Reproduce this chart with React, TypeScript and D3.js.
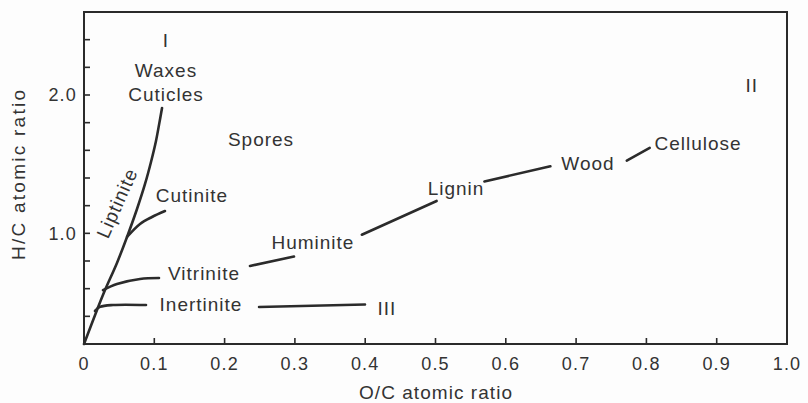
import React from "react";
import * as d3 from "d3";

// ---- data (O/C, H/C) ----
const mainLine: [number, number][] = [
  [0, 0.2], [0.0185, 0.446], [0.0299, 0.59], [0.0469, 0.786], [0.0612, 0.974],
  [0.0754, 1.176], [0.0868, 1.357], [0.0953, 1.516], [0.1024, 1.668],
  [0.1067, 1.784], [0.111, 1.906],
];
const cutiniteLine: [number, number][] = [
  [0.0612, 0.974], [0.0797, 1.068], [0.0967, 1.118], [0.1152, 1.161],
];
const vitriniteLine: [number, number][] = [
  [0.027, 0.59], [0.0469, 0.634], [0.0797, 0.67], [0.1067, 0.677],
];
const vitriniteHuminite: [number, number][] = [[0.2361, 0.764], [0.2987, 0.832]];
const inertiniteLine: [number, number][] = [
  [0.0156, 0.439], [0.0228, 0.468], [0.0413, 0.482], [0.0882, 0.482],
];
const inertiniteIII: [number, number][] = [[0.249, 0.468], [0.3997, 0.486]];
const huminiteLignin: [number, number][] = [[0.3952, 0.99], [0.5016, 1.234]];
const ligninWood: [number, number][] = [[0.5696, 1.375], [0.6634, 1.485]];
const woodCellulose: [number, number][] = [[0.7721, 1.526], [0.8047, 1.617]];

const segments = [
  mainLine, cutiniteLine, vitriniteLine, vitriniteHuminite, inertiniteLine,
  inertiniteIII, huminiteLignin, ligninWood, woodCellulose,
];

const labelTexts = ["I", "Waxes", "Cuticles", "Spores", "Cutinite", "Vitrinite", "Inertinite",
  "Huminite", "Lignin", "Wood", "Cellulose", "III", "II"];
const labelOC = [0.1166, 0.1166, 0.1166, 0.2518, 0.1536, 0.1707, 0.1664, 0.3257, 0.5292, 0.7169, 0.8734, 0.431, 0.95];
const labelHC = [2.347, 2.131, 1.957, 1.632, 1.227, 0.663, 0.439, 0.887, 1.274, 1.458, 1.603, 0.41, 2.022];

const liptinite = { text: "Liptinite", oc: 0.0469, hc: 1.22, angle: -66 };

const xTicks = [0, 0.1, 0.2, 0.3, 0.4, 0.5, 0.6, 0.7, 0.8, 0.9, 1.0];
const xTickLabels = ["0", "0.1", "0.2", "0.3", "0.4", "0.5", "0.6", "0.7", "0.8", "0.9", "1.0"];
const yTicks = [0.4, 0.6, 0.8, 1.0, 1.2, 1.4, 1.6, 1.8, 2.0, 2.2, 2.4];
const yTickLabelValues = [1.0, 2.0];
const yTickLabels = ["1.0", "2.0"];

const xTitle = "O/C atomic ratio";
const yTitle = "H/C atomic ratio";

const W = 808, H = 403;
const left = 84, right = 787, top = 12, bottom = 344;

export default function App() {
  if (typeof document !== "undefined") document.body.style.margin = "0";
  const x = d3.scaleLinear().domain([0, 1]).range([left, right]);
  const y = d3.scaleLinear().domain([0.2, 2.6]).range([bottom, top]);
  const line = d3.line<[number, number]>().x(d => x(d[0])).y(d => y(d[1])).curve(d3.curveMonotoneX);
  const straight = d3.line<[number, number]>().x(d => x(d[0])).y(d => y(d[1])).curve(d3.curveCatmullRom.alpha(0.5));
  const font = "'Liberation Sans', Arial, Helvetica, sans-serif";
  const ink = "#2b2b2b";
  const txt = "#333";

  return (
    <svg width={W} height={H} style={{ display: "block", background: "#fdfdfd" }} fontFamily={font}>
      {/* frame */}
      <rect x={left} y={top} width={right - left} height={bottom - top} fill="none" stroke={ink} strokeWidth={2} />
      {/* x ticks */}
      {xTicks.slice(1, -1).map(t => (
        <line key={"xt" + t} x1={x(t)} x2={x(t)} y1={bottom} y2={bottom - 6} stroke={ink} strokeWidth={1.6} />
      ))}
      {xTicks.map((t, i) => (
        <text key={"xl" + t} x={x(t)} y={370} textAnchor="middle" fontSize={18} letterSpacing={1.2} fill={txt}>
          {xTickLabels[i]}
        </text>
      ))}
      {/* y ticks */}
      {yTicks.map(t => (
        <line key={"yt" + t} x1={left} x2={left + 6} y1={y(t)} y2={y(t)} stroke={ink} strokeWidth={1.6} />
      ))}
      {yTickLabelValues.map((t, i) => (
        <text key={"yl" + t} x={77} y={y(t)} dy="0.36em" textAnchor="end" fontSize={18} letterSpacing={1.2} fill={txt}>
          {yTickLabels[i]}
        </text>
      ))}
      {/* axis titles */}
      <text x={435.5} y={399} textAnchor="middle" fontSize={19} textLength={153} lengthAdjust="spacing" fill={txt}>
        {xTitle}
      </text>
      <text transform={`translate(25,175) rotate(-90)`} textAnchor="middle" fontSize={19} textLength={170} lengthAdjust="spacing" fill={txt}>
        {yTitle}
      </text>
      {/* curves */}
      {segments.map((s, i) => (
        <path key={"s" + i} d={(s.length > 2 ? straight(s) : line(s)) || ""} fill="none" stroke={ink} strokeWidth={2.6} strokeLinecap="round" />
      ))}
      {/* labels */}
      {labelTexts.map((t, i) => (
        <text key={"lb" + i} x={x(labelOC[i])} y={y(labelHC[i])} textAnchor="middle" fontSize={19} letterSpacing={1} fill={txt}>
          {t}
        </text>
      ))}
      <text transform={`translate(${x(liptinite.oc)},${y(liptinite.hc)}) rotate(${liptinite.angle})`}
        textAnchor="middle" dy="0.35em" fontSize={19} letterSpacing={1} fill={txt}>
        {liptinite.text}
      </text>
    </svg>
  );
}
